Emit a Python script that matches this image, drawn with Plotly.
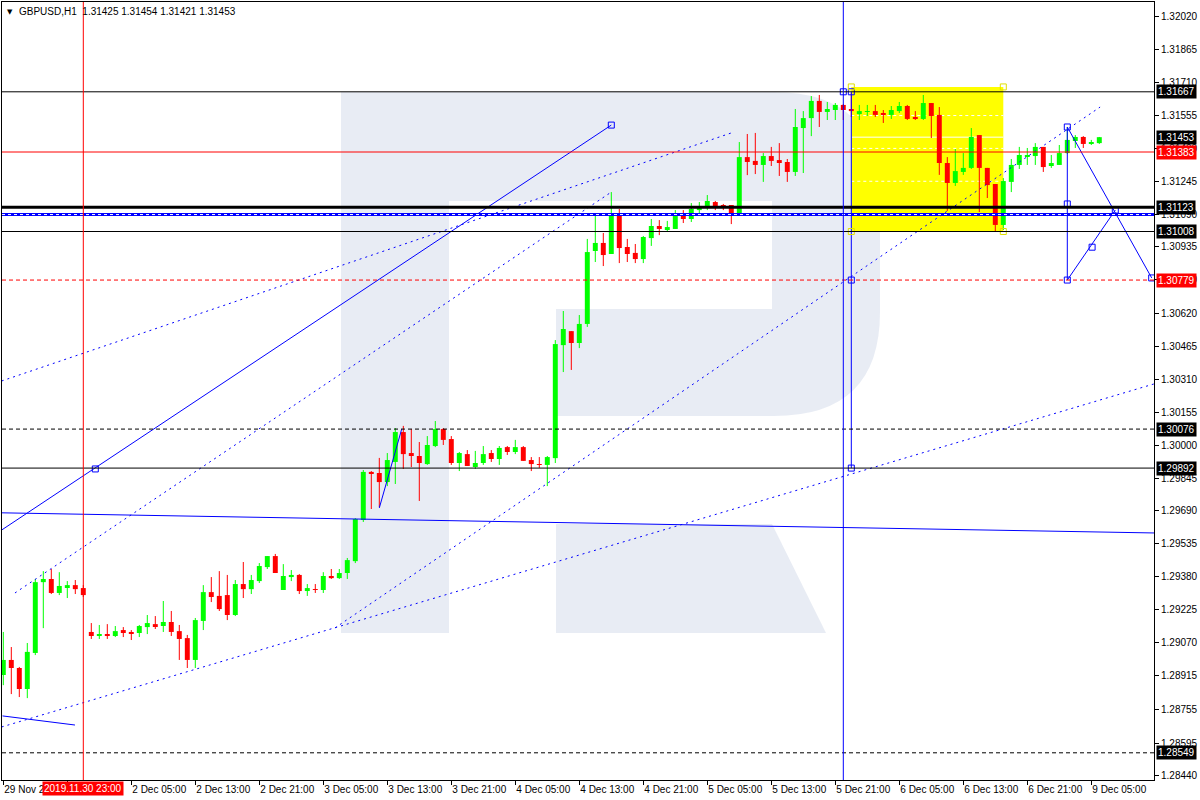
import plotly.graph_objects as go

# ---------------- DATA ----------------
opens = [1.28916,1.28987,1.28949,1.28850,1.29020,1.29354,1.29369,1.29303,1.29331,1.29340,
         1.29326,1.29119,1.29100,1.29109,1.29100,1.29128,1.29119,1.29114,1.29142,1.29156,
         1.29147,1.29166,1.29123,1.29090,1.28987,1.29171,1.29307,1.29289,1.29293,1.29199,
         1.29345,1.29321,1.29359,1.29425,1.29477,1.29317,1.29378,1.29388,1.29312,1.29321,
         1.29317,1.29383,1.29373,1.29397,1.29453,1.29647,1.29874,1.29869,1.29826,1.29921,
         1.30062,1.29963,1.29949,1.29911,1.29996,1.30076,1.30029,1.29916,1.29958,1.29897,
         1.29916,1.29963,1.29935,1.29991,1.29968,1.29991,1.29930,1.29911,1.29907,1.29939,
         1.30472,1.30538,1.30482,1.30572,1.30916,1.30954,1.30902,1.31091,1.30935,1.30907,
         1.30878,1.30977,1.31034,1.31015,1.31020,1.31086,1.31067,1.31109,1.31119,1.31147,
         1.31133,1.31133,1.31095,1.31359,1.31341,1.31322,1.31364,1.31345,1.31336,1.31289,
         1.31496,1.31543,1.31624,1.31572,1.31581,1.31605,1.31586,1.31562,1.31572,1.31576,
         1.31567,1.31558,1.31576,1.31600,1.31548,1.31539,1.31614,1.31558,1.31331,1.31237,
         1.31289,1.31308,1.31463,1.31308,1.31232,1.31039,1.31242,1.31322,1.31364,1.31364,
         1.31407,1.31317,1.31322,1.31378,1.31435,1.31454,1.31425,1.31425]
highs = [1.29119,1.29048,1.28954,1.29067,1.29369,1.29406,1.29416,1.29401,1.29359,1.29364,
         1.29340,1.29161,1.29152,1.29156,1.29147,1.29142,1.29128,1.29152,1.29199,1.29194,
         1.29265,1.29218,1.29152,1.29105,1.29185,1.29340,1.29378,1.29406,1.29388,1.29364,
         1.29449,1.29388,1.29444,1.29477,1.29487,1.29439,1.29411,1.29392,1.29345,1.29345,
         1.29401,1.29416,1.29416,1.29468,1.29656,1.29883,1.29878,1.29940,1.29963,1.30081,
         1.30091,1.30076,1.30015,1.30043,1.30114,1.30081,1.30043,1.29968,1.29977,1.29973,
         1.29996,1.29977,1.29996,1.29996,1.30025,1.29996,1.29944,1.29944,1.29949,1.30496,
         1.30633,1.30538,1.30614,1.30973,1.31086,1.31001,1.31194,1.31114,1.30973,1.30949,
         1.30987,1.31067,1.31062,1.31058,1.31109,1.31109,1.31142,1.31147,1.31180,1.31152,
         1.31138,1.31133,1.31430,1.31468,1.31473,1.31378,1.31407,1.31425,1.31350,1.31586,
         1.31576,1.31647,1.31652,1.31619,1.31614,1.31609,1.31661,1.31605,1.31605,1.31605,
         1.31581,1.31600,1.31619,1.31605,1.31576,1.31652,1.31614,1.31595,1.31359,1.31397,
         1.31378,1.31496,1.31463,1.31308,1.31232,1.31260,1.31350,1.31407,1.31402,1.31425,
         1.31407,1.31369,1.31416,1.31501,1.31463,1.31458,1.31440,1.31454]
lows = [1.28868,1.28826,1.28812,1.28807,1.29010,1.29137,1.29298,1.29293,1.29279,1.29298,
        1.29284,1.29086,1.29086,1.29086,1.29095,1.29095,1.29081,1.29095,1.29109,1.29133,
        1.29119,1.29100,1.28987,1.28949,1.28949,1.29128,1.29260,1.29218,1.29175,1.29194,
        1.29279,1.29298,1.29350,1.29416,1.29397,1.29317,1.29359,1.29298,1.29289,1.29303,
        1.29303,1.29369,1.29369,1.29369,1.29444,1.29638,1.29699,1.29708,1.29807,1.29817,
        1.29888,1.29897,1.29737,1.29907,1.29991,1.30001,1.29907,1.29878,1.29902,1.29888,
        1.29907,1.29921,1.29907,1.29954,1.29958,1.29926,1.29878,1.29893,1.29807,1.29916,
        1.30345,1.30355,1.30458,1.30558,1.30864,1.30845,1.30902,1.30859,1.30864,1.30859,
        1.30859,1.30940,1.30991,1.31010,1.31020,1.31048,1.31053,1.31095,1.31109,1.31109,
        1.31109,1.31043,1.31086,1.31274,1.31279,1.31242,1.31317,1.31270,1.31242,1.31270,
        1.31284,1.31458,1.31501,1.31534,1.31534,1.31534,1.31548,1.31534,1.31553,1.31548,
        1.31520,1.31539,1.31567,1.31534,1.31534,1.31534,1.31449,1.31275,1.31105,1.31223,
        1.31275,1.31303,1.31100,1.31166,1.31010,1.31015,1.31194,1.31303,1.31322,1.31322,
        1.31289,1.31308,1.31322,1.31374,1.31402,1.31402,1.31416,1.31421]
closes = [1.28987,1.28949,1.28850,1.29025,1.29354,1.29369,1.29303,1.29336,1.29340,1.29321,
          1.29293,1.29100,1.29109,1.29100,1.29123,1.29114,1.29114,1.29147,1.29161,1.29147,
          1.29166,1.29119,1.29086,1.28987,1.29175,1.29307,1.29284,1.29227,1.29199,1.29345,
          1.29321,1.29364,1.29430,1.29477,1.29397,1.29383,1.29388,1.29312,1.29326,1.29317,
          1.29383,1.29373,1.29397,1.29458,1.29652,1.29874,1.29864,1.29826,1.29930,1.30062,
          1.29958,1.29949,1.29916,1.30001,1.30076,1.30025,1.29916,1.29963,1.29902,1.29916,
          1.29958,1.29935,1.29987,1.29968,1.29991,1.29926,1.29911,1.29907,1.29944,1.30477,
          1.30548,1.30482,1.30572,1.30911,1.30954,1.30897,1.31091,1.30930,1.30902,1.30878,
          1.30982,1.31034,1.31020,1.31029,1.31081,1.31067,1.31114,1.31119,1.31152,1.31128,
          1.31128,1.31095,1.31359,1.31336,1.31322,1.31364,1.31341,1.31331,1.31289,1.31501,
          1.31543,1.31624,1.31572,1.31586,1.31605,1.31581,1.31576,1.31576,1.31576,1.31558,
          1.31558,1.31581,1.31600,1.31539,1.31539,1.31614,1.31553,1.31331,1.31237,1.31293,
          1.31308,1.31454,1.31308,1.31227,1.31039,1.31246,1.31322,1.31369,1.31369,1.31407,
          1.31312,1.31331,1.31378,1.31440,1.31454,1.31421,1.31430,1.31453]
bar_idx = list(range(len(opens)))

price_ticks = [1.32020, 1.31865, 1.31710, 1.31555, 1.31400, 1.31245, 1.31090, 1.30935,
               1.30780, 1.30620, 1.30465, 1.30310, 1.30155, 1.30000, 1.29845, 1.29690,
               1.29535, 1.29380, 1.29225, 1.29070, 1.28915, 1.28755, 1.28595, 1.28440]
time_tick_idx = [0, 8, 16, 24, 32, 40, 48, 56, 64, 72, 80, 88, 96, 104, 112, 120, 128, 136]
time_tick_text = ["29 Nov 2019", "", "2 Dec 05:00", "2 Dec 13:00", "2 Dec 21:00", "3 Dec 05:00",
                  "3 Dec 13:00", "3 Dec 21:00", "4 Dec 05:00", "4 Dec 13:00", "4 Dec 21:00",
                  "5 Dec 05:00", "5 Dec 13:00", "5 Dec 21:00", "6 Dec 05:00", "6 Dec 13:00",
                  "6 Dec 21:00", "9 Dec 05:00"]

# horizontal levels
level_prices = [1.31667, 1.31383, 1.31123, 1.31008, 1.30779, 1.30076, 1.29892, 1.28549]
level_colors = ["black", "red", "black", "black", "red", "black", "black", "black"]
level_dash = ["solid", "solid", "solid", "solid", "4px,3px", "4px,3px", "solid", "4px,3px"]
level_width = [1, 1, 3, 1, 1, 1, 1, 1]
bid_price = 1.31453
band_price = 1.31088

# trend lines (bar index, price)
solid_lines = [
    ([-0.2, 76.0], [1.29600, 1.31510]),
    ([-0.2, 143.84], [1.29681, 1.29586]),
    ([-0.1, 8.96], [1.28723, 1.28680]),
    ([47.0, 49.8], [1.29704, 1.30076]),
    ([133.0, 143.55], [1.31501, 1.30789]),
    ([133.0, 139.0], [1.30779, 1.31109]),
    ([106.0, 106.0], [1.31667, 1.29892]),
    ([133.0, 133.0], [1.31501, 1.30779]),
]
dotted_lines = [
    ([-0.2, 91.0], [1.30303, 1.31473]),
    ([1.46, 76.0], [1.29303, 1.31194]),
    ([-0.2, 143.84], [1.28671, 1.30289]),
    ([41.46, 137.1], [1.29138, 1.31595]),
]
anchor_x = [11.5, 76.0, 105.0, 106.0, 106.0, 106.0, 133.0, 133.0, 133.0, 139.0, 143.55, 136.1]
anchor_y = [1.29888, 1.31510, 1.31667, 1.31667, 1.30779, 1.29892, 1.31501, 1.31138, 1.30779,
            1.31109, 1.30789, 1.30934]
rect_idx = [106, 125]
rect_prices = [1.31008, 1.31690]
vline_red_idx = 10
vline_blue_idx = 105

# ---------------- FIGURE ----------------
W, H = 1200, 800
ML, MR, MT, MB = 2, 46, 2, 20
X0, X1 = -0.1625, -0.1625 + (W - ML - MR) / 8.0
Y1 = 1.320906
Y0 = 1.284207
FONT = "Liberation Sans, Arial, sans-serif"

def pxx(p):
    return (p - ML) / (W - ML - MR)

def pxy(p):
    return (H - MB - p) / (H - MT - MB)

fig = go.Figure()

up = [c >= o for o, c in zip(opens, closes)]
GREEN, RED = "#00FF00", "#FF0000"

# wicks
for flag, col in ((True, GREEN), (False, RED)):
    xs, ys = [], []
    for i in bar_idx:
        if up[i] == flag:
            xs += [i, i, None]
            ys += [lows[i], highs[i], None]
    fig.add_trace(go.Scatter(x=xs, y=ys, mode="lines", line=dict(color=col, width=1),
                             hoverinfo="skip", showlegend=False))

# bodies
base = [min(o, c) for o, c in zip(opens, closes)]
height = [max(abs(c - o), 0.00003) for o, c in zip(opens, closes)]
fig.add_trace(go.Bar(x=bar_idx, y=height, base=base, width=0.62,
                     marker=dict(color=[GREEN if u else RED for u in up], line=dict(width=0)),
                     hoverinfo="skip", showlegend=False))

# trend lines
for xs, ys in solid_lines:
    fig.add_trace(go.Scatter(x=xs, y=ys, mode="lines", line=dict(color="#0000FF", width=1),
                             hoverinfo="skip", showlegend=False))
for xs, ys in dotted_lines:
    fig.add_trace(go.Scatter(x=xs, y=ys, mode="lines",
                             line=dict(color="#0000FF", width=1, dash="2px,4px"),
                             hoverinfo="skip", showlegend=False))
fig.add_trace(go.Scatter(x=anchor_x, y=anchor_y, mode="markers",
                         marker=dict(symbol="square-open", size=6, color="#0000FF",
                                     line=dict(width=1)),
                         hoverinfo="skip", showlegend=False))
fig.add_trace(go.Scatter(x=[rect_idx[0], rect_idx[1], rect_idx[0], rect_idx[1]],
                         y=[rect_prices[1], rect_prices[1], rect_prices[0], rect_prices[0]],
                         mode="markers",
                         marker=dict(symbol="square-open", size=6, color="#E0E000",
                                     line=dict(width=1)),
                         hoverinfo="skip", showlegend=False))

shapes = []
# yellow rectangle (background)
shapes.append(dict(type="rect", xref="x", yref="y", x0=rect_idx[0], x1=rect_idx[1],
                   y0=rect_prices[0], y1=rect_prices[1], fillcolor="#FFFF00",
                   line=dict(width=0), layer="below"))
# white grid lines and bid line, only visible over the yellow rectangle
for t in price_ticks:
    if rect_prices[0] < t < rect_prices[1]:
        shapes.append(dict(type="line", xref="x", yref="y", x0=rect_idx[0], x1=rect_idx[1],
                           y0=t, y1=t, line=dict(color="white", width=1, dash="3px,3px"),
                           layer="below"))
shapes.append(dict(type="line", xref="x", yref="y", x0=rect_idx[0], x1=rect_idx[1],
                   y0=bid_price, y1=bid_price, line=dict(color="white", width=1),
                   layer="below"))
# logo
LOGO = "rgba(25,65,145,0.10)"

stem = "M {},{} L {},{} L {},{} L {},{} Z".format(
    pxx(341), pxy(92), pxx(449), pxy(92), pxx(449), pxy(633), pxx(341), pxy(633))
bowl = ("M {},{} L {},{} Q {},{} {},{} L {},{} Q {},{} {},{} L {},{} L {},{} "
        "L {},{} L {},{} L {},{} Z").format(
    pxx(449), pxy(92), pxx(774), pxy(92), pxx(880), pxy(92), pxx(880), pxy(198),
    pxx(880), pxy(312), pxx(880), pxy(416), pxx(774), pxy(416),
    pxx(556), pxy(416), pxx(556), pxy(309), pxx(772), pxy(309), pxx(772), pxy(201),
    pxx(449), pxy(201))
leg = "M {},{} L {},{} L {},{} L {},{} Z".format(
    pxx(556), pxy(524), pxx(772), pxy(524), pxx(826), pxy(633), pxx(556), pxy(633))
for p in (stem, bowl, leg):
    shapes.append(dict(type="path", xref="paper", yref="paper", path=p,
                       fillcolor=LOGO, line=dict(width=0), layer="between"))

# level lines
for pr, col, dsh, wd in zip(level_prices, level_colors, level_dash, level_width):
    shapes.append(dict(type="line", xref="paper", yref="y", x0=0, x1=1, y0=pr, y1=pr,
                       line=dict(color=col, width=wd, dash=dsh), layer="above"))
# blue band with white dashes
shapes.append(dict(type="line", xref="paper", yref="y", x0=0, x1=1, y0=band_price, y1=band_price,
                   line=dict(color="#0000FF", width=3), layer="above"))
shapes.append(dict(type="line", xref="paper", yref="y", x0=0, x1=1, y0=band_price, y1=band_price,
                   line=dict(color="white", width=1, dash="3px,3px"), layer="above"))
# vertical lines
shapes.append(dict(type="line", xref="x", yref="paper", x0=vline_red_idx, x1=vline_red_idx,
                   y0=0, y1=1, line=dict(color="red", width=1), layer="above"))
shapes.append(dict(type="line", xref="x", yref="paper", x0=vline_blue_idx, x1=vline_blue_idx,
                   y0=0, y1=1, line=dict(color="#0000FF", width=1), layer="above"))

annotations = []
# price labels on the right
label_prices = [1.31667, bid_price, 1.31383, 1.31123, 1.31008, 1.30779, 1.30076, 1.29892, 1.28549]
label_bg = ["black", "black", "red", "black", "black", "red", "black", "black", "black"]
for pr, bg in zip(label_prices, label_bg):
    annotations.append(dict(xref="paper", yref="y", x=1, y=pr, xanchor="left", yanchor="middle",
                            xshift=2, text=f"{pr:.5f}", showarrow=False, bgcolor=bg,
                            font=dict(family=FONT, size=10, color="white"), borderpad=1))
# time label of red vertical line
annotations.append(dict(xref="x", yref="paper", x=vline_red_idx, y=0, xanchor="center",
                        yanchor="top", yshift=-1, text="2019.11.30 23:00", showarrow=False,
                        bgcolor="red", font=dict(family=FONT, size=10, color="white"),
                        borderpad=1))
# header
annotations.append(dict(xref="paper", yref="paper", x=0, y=1, xanchor="left", yanchor="top",
                        xshift=3, yshift=-4, text="\u25BC", showarrow=False,
                        font=dict(family="DejaVu Sans", size=7, color="black")))
annotations.append(dict(xref="paper", yref="paper", x=0, y=1, xanchor="left", yanchor="top",
                        xshift=15, yshift=-2,
                        text="GBPUSD,H1\u00a0\u00a01.31425 1.31454 1.31421 1.31453",
                        showarrow=False, font=dict(family=FONT, size=10, color="black")))

fig.update_layout(
    width=W, height=H,
    margin=dict(l=ML, r=MR, t=MT, b=MB, pad=0),
    paper_bgcolor="white", plot_bgcolor="white",
    showlegend=False, hovermode=False, barmode="overlay",
    shapes=shapes, annotations=annotations,
    font=dict(family=FONT, size=10, color="black"),
    xaxis=dict(range=[X0, X1], showgrid=False, zeroline=False,
               showline=True, linecolor="black", linewidth=1, mirror=True,
               tickmode="array", tickvals=time_tick_idx, ticktext=time_tick_text,
               ticks="outside", ticklen=4, tickcolor="black",
               ticklabelposition="outside right",
               tickfont=dict(family=FONT, size=10, color="black")),
    yaxis=dict(range=[Y0, Y1], side="right", showgrid=False, zeroline=False,
               showline=True, linecolor="black", linewidth=1, mirror=True,
               tickmode="array", tickvals=price_ticks,
               ticktext=[f"{v:.5f}" for v in price_ticks],
               ticks="outside", ticklen=4, tickcolor="black",
               tickfont=dict(family=FONT, size=10, color="black")),
)

fig.write_html("out.html", config={"displayModeBar": False},
               post_script="document.body.style.margin='0';")
